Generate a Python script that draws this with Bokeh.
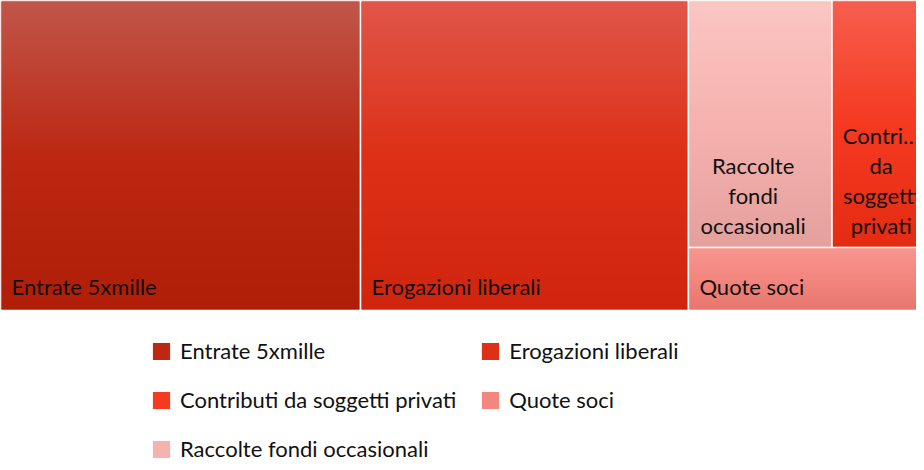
import numpy as np
from bokeh.plotting import figure
from bokeh.models import Range1d, Legend, LegendItem, ColumnDataSource
from bokeh.core.properties import value
from bokeh.embed import file_html
from bokeh.resources import INLINE

# ---------------- data ----------------
categories = ["Entrate 5xmille", "Erogazioni liberali", "Raccolte fondi occasionali",
              "Contributi da soggetti privati", "Quote soci"]
amounts = [38.1, 34.7, 12.1, 9.5, 5.5]
cell_labels = ["Entrate 5xmille", "Erogazioni liberali", "Raccolte\nfondi\noccasionali",
               "Contri…\nda\nsoggetti\nprivati", "Quote soci"]
# legend is filled column by column (2 columns)
legend_order = ["Entrate 5xmille", "Contributi da soggetti privati", "Raccolte fondi occasionali",
                "Erogazioni liberali", "Quote soci"]

# ---------------- style ----------------
top_colors = ["#C1564A", "#E0564A", "#FAC6C3", "#F65E4E", "#F89690"]
mid_colors = ["#BC2812", "#DD3016", "#F6B2AE", "#F53A20", "#F3867F"]
bot_colors = ["#B01E08", "#D0240E", "#E4A09C", "#E42C12", "#E6766E"]
FONT = "Lato"
FONT_SIZE = "22px"

# treemap nesting (indices into categories): slices alternate horizontal / vertical
structure = [0, 1, [[2, 3], 4]]

W, H = 916, 462
CX0, CX1 = 0, 944      # treemap container (extends beyond the visible frame)
CY0, CY1 = 152, 462


def total(node):
    return amounts[node] if isinstance(node, int) else sum(total(n) for n in node)


def slice_layout(node, x0, y0, x1, y1, horizontal, out):
    if isinstance(node, int):
        out[node] = (x0, y0, x1, y1)
        return
    s = total(node)
    pos = x0 if horizontal else y1
    for child in node:
        frac = total(child) / s
        if horizontal:
            nx = pos + frac * (x1 - x0)
            slice_layout(child, pos, y0, nx, y1, not horizontal, out)
            pos = nx
        else:
            ny = pos - frac * (y1 - y0)
            slice_layout(child, x0, ny, x1, pos, not horizontal, out)
            pos = ny


rects = {}
slice_layout(structure, CX0, CY0, CX1, CY1, True, rects)
n = len(categories)
left = [rects[i][0] for i in range(n)]
bottom = [rects[i][1] for i in range(n)]
right = [rects[i][2] for i in range(n)]
top = [rects[i][3] for i in range(n)]


def hex2rgb(h):
    h = h.lstrip("#")
    return np.array([int(h[k:k + 2], 16) for k in (0, 2, 4)], dtype=float)


def gradient(tc, mc, bc, N=160):
    img = np.zeros((N, 1), dtype=np.uint32)
    view = img.view(dtype=np.uint8).reshape((N, 1, 4))
    t, m, b = hex2rgb(tc), hex2rgb(mc), hex2rgb(bc)
    for i in range(N):
        f = 1 - (i + 0.5) / N   # 0 at top, 1 at bottom
        if f < 0.5:
            c = t + (m - t) * (f / 0.5)
        else:
            c = m + (b - m) * ((f - 0.5) / 0.5)
        view[i, 0, :3] = np.round(c).astype(np.uint8)
        view[i, 0, 3] = 255
    return img


p = figure(width=W, height=H, output_backend="svg", toolbar_location=None,
           x_range=Range1d(0, W), y_range=Range1d(0, H),
           x_axis_location=None, y_axis_location=None,
           min_border=0, min_border_left=0, min_border_right=0,
           min_border_top=0, min_border_bottom=0)
p.grid.visible = False
p.outline_line_color = None
p.background_fill_color = "white"
p.border_fill_color = "white"

src = ColumnDataSource(dict(left=left, right=right, bottom=bottom, top=top,
                            color=mid_colors, name=categories))
qr = p.quad(left="left", right="right", bottom="bottom", top="top", source=src,
            fill_color="color", line_color="white", line_width=2)

p.image_rgba(image=[gradient(top_colors[i], mid_colors[i], bot_colors[i]) for i in range(n)],
             x=[l + 1 for l in left], y=[b + 1 for b in bottom],
             dw=[r - l - 2 for l, r in zip(left, right)],
             dh=[t - b - 2 for b, t in zip(bottom, top)])

# cell labels
single = [i for i in range(n) if "\n" not in cell_labels[i]]
multi = [i for i in range(n) if "\n" in cell_labels[i]]
p.text(x=[left[i] + 11 for i in single], y=[bottom[i] + 24 for i in single],
       text=[cell_labels[i] for i in single], text_font=value(FONT),
       text_font_size=FONT_SIZE, text_color="#111111", text_align="left",
       text_baseline="alphabetic")
p.text(x=[(left[i] + right[i]) / 2 - 7 for i in multi], y=[bottom[i] + 9 for i in multi],
       text=[cell_labels[i] for i in multi], text_font=value(FONT),
       text_font_size=FONT_SIZE, text_color="#111111", text_align="center",
       text_baseline="bottom", text_line_height=1.1)

items = [LegendItem(label=name, renderers=[qr], index=categories.index(name))
         for name in legend_order]
legend = Legend(items=items, location=(149, 0), ncols=2,
                label_text_font=FONT, label_text_font_size=FONT_SIZE,
                label_text_color="#111111",
                glyph_width=24, glyph_height=24, label_standoff=7,
                label_height=24, spacing=22, padding=0, margin=0,
                border_line_color=None, background_fill_alpha=0)
p.add_layout(legend, "center")

open("out.html", "w").write(file_html(p, INLINE))
